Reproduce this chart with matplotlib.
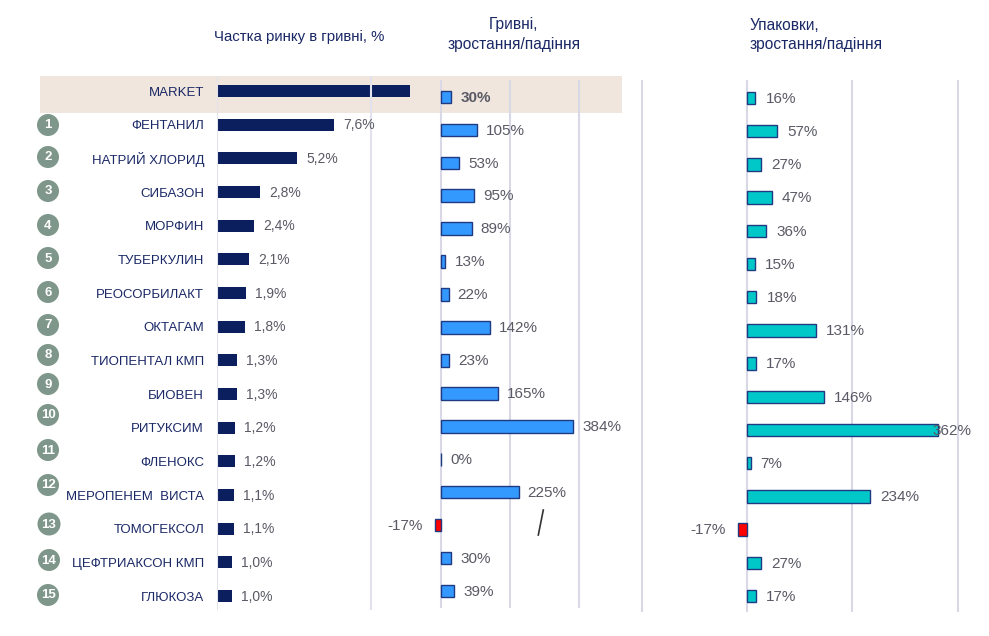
import matplotlib
matplotlib.use("Agg")
import matplotlib.pyplot as plt
from matplotlib.patches import Rectangle, Ellipse
from matplotlib.lines import Line2D

plt.rcParams['font.family'] = ['Liberation Sans', 'DejaVu Sans']

# ---------------- data ----------------
categories = ["MARKET", "ФЕНТАНИЛ", "НАТРИЙ ХЛОРИД", "СИБАЗОН", "МОРФИН",
              "ТУБЕРКУЛИН", "РЕОСОРБИЛАКТ", "ОКТАГАМ", "ТИОПЕНТАЛ КМП",
              "БИОВЕН", "РИТУКСИМ", "ФЛЕНОКС", "МЕРОПЕНЕМ  ВИСТА",
              "ТОМОГЕКСОЛ", "ЦЕФТРИАКСОН КМП", "ГЛЮКОЗА"]
ranks = list(range(1, 16))
share_pct = [12.5, 7.6, 5.2, 2.8, 2.4, 2.1, 1.9, 1.8, 1.3, 1.3, 1.2, 1.2,
             1.1, 1.1, 1.0, 1.0]
uah_growth = [30, 105, 53, 95, 89, 13, 22, 142, 23, 165, 384, 0, 225, -17,
              30, 39]
pack_growth = [16, 57, 27, 47, 36, 15, 18, 131, 17, 146, 362, 7, 234, -17,
               27, 17]
title_share = "Частка ринку в гривні, %"
title_uah = ["Гривні,", "зростання/падіння"]
title_pack = ["Упаковки,", "зростання/падіння"]

# ---------------- style ----------------
W, H = 989, 636
NAVY = '#0b1f5e'
TXT_NAVY = '#1a2866'
VAL_GRAY = '#5a5a66'
GRID = '#d8d8e6'
EDGE = '#1f3a80'
BLUE = '#3399ff'
TEAL = '#00c8c8'
RED = '#ff0000'
BEIGE = '#f0e6dd'
CIRCLE = '#7f968a'
PT = 0.72  # points per pixel at dpi 100

fig = plt.figure(figsize=(W / 100, H / 100), dpi=100)


def px_axes(x0, x1, zero_px, ppu, y_top, y_bot, row0, step):
    ax = fig.add_axes([x0 / W, 1 - y_bot / H, (x1 - x0) / W, (y_bot - y_top) / H])
    ax.set_xlim((x0 - zero_px) / ppu, (x1 - zero_px) / ppu)
    ax.set_ylim((y_bot - row0) / step, (y_top - row0) / step)
    ax.patch.set_alpha(0)
    for s in ax.spines.values():
        s.set_visible(False)
    ax.set_xticks([])
    ax.set_yticks([])
    return ax


# beige band behind MARKET row
fig.add_artist(Rectangle((40 / W, 1 - 113 / H), (622 - 40) / W, (113 - 76) / H,
                         transform=fig.transFigure, facecolor=BEIGE,
                         edgecolor='none', zorder=-1))

# ---------------- panel 1: share ----------------
ax1 = px_axes(217, 430, 217, 15.4, 76, 610, 91, 33.67)
n = len(categories)
ypos = list(range(n))
ax1.barh(ypos, share_pct, height=0.36, color=NAVY, zorder=2)
for g in [0, 10]:
    ax1.axvline(g, color='#e2e2ee', lw=1.5, zorder=3)
for i, v in enumerate(share_pct):
    if i == 0:
        continue
    ax1.annotate(f"{v:.1f}%".replace('.', ','), xy=(v, i),
                 xytext=(9 * PT, -0.5 * PT), textcoords='offset points',
                 ha='left', va='center', fontsize=10, color=VAL_GRAY, zorder=4)
ax1.set_yticks(ypos)
ax1.set_yticklabels(categories, fontsize=9.5, color=TXT_NAVY)
ax1.tick_params(axis='y', length=0, pad=13 * PT)

# ---------------- panel 2: UAH growth ----------------
ax2 = px_axes(398, 622, 441, 0.345, 80, 608, 97, 32.93)
for g in [0, 200, 400]:
    ax2.axvline(g, color=GRID, lw=1.5, zorder=0.5)
cols2 = [RED if v < 0 else BLUE for v in uah_growth]
ax2.barh(ypos, uah_growth, height=0.385, color=cols2, edgecolor=EDGE,
         linewidth=1.0, zorder=2)
for i, v in enumerate(uah_growth):
    off = 9 if v >= 0 else -12
    ax2.annotate(f"{v:.0f}%", xy=(v, i), xytext=(off * PT, -0.7 * PT),
                 textcoords='offset points', ha='left' if v >= 0 else 'right',
                 va='center', fontsize=11, color=VAL_GRAY,
                 fontweight='bold' if i == 0 else 'normal', zorder=4)

# ---------------- panel 3: packs growth ----------------
ax3 = px_axes(640, 982, 747, 0.527, 80, 612, 98, 33.2)
for g in [-200, 0, 200, 400]:
    ax3.axvline(g, color=GRID, lw=1.5, zorder=0.5)
cols3 = [RED if v < 0 else TEAL for v in pack_growth]
ax3.barh(ypos, pack_growth, height=0.37, color=cols3, edgecolor=EDGE,
         linewidth=1.0, zorder=2)
vmax3 = max(pack_growth)
for i, v in enumerate(pack_growth):
    if v < 0:
        off = -12
    elif v == vmax3:
        off = -5
    else:
        off = 10
    ax3.annotate(f"{v:.0f}%", xy=(v, i), xytext=(off * PT, -0.7 * PT),
                 textcoords='offset points', ha='left' if v >= 0 else 'right',
                 va='center', fontsize=11, color=VAL_GRAY, zorder=4)

# ---------------- titles ----------------
fig.text(299 / W, 1 - 37 / H, title_share, ha='center', va='center',
         fontsize=10.8, color=TXT_NAVY)
fig.text(514 / W, 1 - 25 / H, title_uah[0], ha='center', va='center',
         fontsize=11.2, color=TXT_NAVY)
fig.text(514 / W, 1 - 45 / H, title_uah[1], ha='center', va='center',
         fontsize=11.2, color=TXT_NAVY)
fig.text(750 / W, 1 - 25 / H, title_pack[0], ha='left', va='center',
         fontsize=11.2, color=TXT_NAVY)
fig.text(750 / W, 1 - 45 / H, title_pack[1], ha='left', va='center',
         fontsize=11.2, color=TXT_NAVY)

# ---------------- rank circles ----------------
circle_xy = [(48, 125), (48, 157), (48, 191), (48, 225), (48, 258), (48, 292),
             (48, 325), (48, 355), (48, 384), (48, 415), (48, 450), (48, 485),
             (49, 524), (49, 560), (48, 595)]
circle_r = [11] * 12 + [11.5, 11, 11]
for (cx, cy), r, k in zip(circle_xy, circle_r, ranks):
    fig.add_artist(Ellipse((cx / W, 1 - cy / H), 2 * r / W, 2 * r / H,
                           transform=fig.transFigure, facecolor=CIRCLE,
                           edgecolor='none', zorder=5))
    fig.text(cx / W, 1 - (cy + 0.5) / H, str(k), ha='center', va='center',
             fontsize=9.5, fontweight='bold', color='white', zorder=6)

# decorative slash mark
fig.add_artist(Line2D([543.3 / W, 538.3 / W], [1 - 510 / H, 1 - 535 / H],
                      transform=fig.transFigure, color='#333333', lw=1.2))

fig.savefig("out.png", dpi=100)
